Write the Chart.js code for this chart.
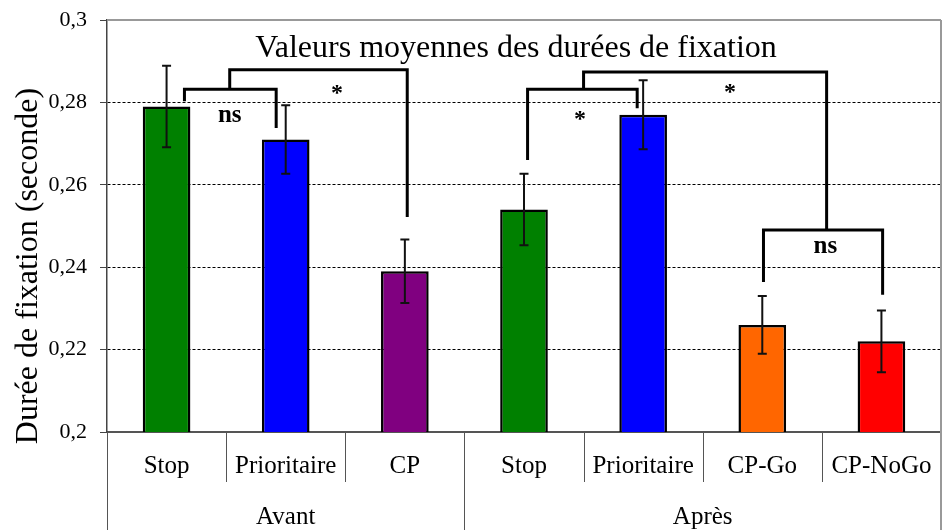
<!DOCTYPE html>
<html lang="fr">
<head>
<meta charset="UTF-8">
<title>Valeurs moyennes des durées de fixation</title>
<script src="https://cdn.jsdelivr.net/npm/chart.js"></script>
<style>
  html, body { margin: 0; padding: 0; background: #fff; }
  #wrap { width: 945px; height: 530px; }
</style>
</head>
<body>
<div id="wrap"><canvas id="fixChart"></canvas></div>
<script>
var categories = ['Stop', 'Prioritaire', 'CP', 'Stop', 'Prioritaire', 'CP-Go', 'CP-NoGo'];
var groups = ['Avant', 'Après'];
var groupSizes = [3, 4];
var meanValues = [0.279, 0.271, 0.239, 0.254, 0.277, 0.226, 0.222];
var errorValues = [0.0099, 0.0083, 0.0077, 0.0087, 0.0084, 0.0070, 0.0075];
var barColors = ['#008000', '#0000ff', '#800080', '#008000', '#0000ff', '#ff6600', '#ff0000'];
var yTicks = [0.2, 0.22, 0.24, 0.26, 0.28, 0.3];
var yTickLabels = ['0,2', '0,22', '0,24', '0,26', '0,28', '0,3'];

// significance brackets, in category index / seconds:
// [left x, left leg end, right x, right leg end, top]
var brackets = [
    [0.15, 0.2803, 0.92, 0.2738, 0.2832],
    [0.53, 0.2832, 2.02, 0.2522, 0.2879],
    [3.03, 0.2660, 3.95, 0.2786, 0.2832],
    [3.50, 0.2832, 5.54, 0.2490, 0.2874],
    [5.01, 0.2364, 6.01, 0.2333, 0.2490]
];
var bracketLabels = ['ns', '*', '*', '*', 'ns'];
var bracketLabelPos = [[0.53, 0.2752], [1.43, 0.2806], [3.47, 0.2743], [4.73, 0.2808], [5.53, 0.2434]];

var chartTitle = 'Valeurs moyennes des durées de fixation';
var yTitle = 'Durée de fixation (seconde)';
var serif = '"Liberation Serif", "DejaVu Serif", serif';

var extras = {
    id: 'extras',
    beforeDatasetsDraw: function(chart) {
        var ctx = chart.ctx, a = chart.chartArea;
        ctx.save();
        ctx.strokeStyle = '#999';
        ctx.lineWidth = 2;
        ctx.beginPath();
        ctx.moveTo(a.left, a.top);
        ctx.lineTo(a.right, a.top);
        ctx.stroke();
        ctx.restore();
    },
    afterDatasetsDraw: function(chart) {
        var ctx = chart.ctx, a = chart.chartArea;
        var xs = chart.scales.x, ys = chart.scales.y;
        var meta = chart.getDatasetMeta(0);
        ctx.save();

        // error bars
        ctx.strokeStyle = '#111';
        ctx.lineWidth = 2;
        meta.data.forEach(function(bar, i) {
            var yHi = ys.getPixelForValue(meanValues[i] + errorValues[i]);
            var yLo = ys.getPixelForValue(meanValues[i] - errorValues[i]);
            ctx.beginPath();
            ctx.moveTo(bar.x, yHi); ctx.lineTo(bar.x, yLo);
            ctx.moveTo(bar.x - 4.5, yHi); ctx.lineTo(bar.x + 4.5, yHi);
            ctx.moveTo(bar.x - 4.5, yLo); ctx.lineTo(bar.x + 4.5, yLo);
            ctx.stroke();
        });

        // brackets
        ctx.strokeStyle = '#000';
        ctx.lineWidth = 3;
        ctx.lineJoin = 'miter';
        brackets.forEach(function(b) {
            ctx.beginPath();
            ctx.moveTo(xs.getPixelForValue(b[0]), ys.getPixelForValue(b[1]));
            ctx.lineTo(xs.getPixelForValue(b[0]), ys.getPixelForValue(b[4]));
            ctx.lineTo(xs.getPixelForValue(b[2]), ys.getPixelForValue(b[4]));
            ctx.lineTo(xs.getPixelForValue(b[2]), ys.getPixelForValue(b[3]));
            ctx.stroke();
        });
        ctx.fillStyle = '#000';
        ctx.textAlign = 'center';
        ctx.textBaseline = 'alphabetic';
        bracketLabels.forEach(function(t, i) {
            ctx.font = 'bold ' + (t === '*' ? 24 : 25) + 'px ' + serif;
            ctx.fillText(t, xs.getPixelForValue(bracketLabelPos[i][0]), ys.getPixelForValue(bracketLabelPos[i][1]));
        });

        // title inside the plot
        ctx.font = '32px ' + serif;
        ctx.fillText(chartTitle, (a.left + a.right) / 2 - 8, a.top + 37);
        ctx.restore();
    },
    afterDraw: function(chart) {
        var ctx = chart.ctx, a = chart.chartArea, xs = chart.scales.x;
        var H = chart.height;
        ctx.save();

        // category separators
        ctx.strokeStyle = '#555';
        ctx.lineWidth = 1;
        var bounds = [];
        for (var i = 0; i <= categories.length; i++) {
            if (i === 0) bounds.push(a.left);
            else if (i === categories.length) bounds.push(a.right);
            else bounds.push((xs.getPixelForValue(i - 1) + xs.getPixelForValue(i)) / 2);
        }
        var groupEdges = [0];
        groupSizes.forEach(function(n) { groupEdges.push(groupEdges[groupEdges.length - 1] + n); });
        bounds.forEach(function(x, i) {
            var full = groupEdges.indexOf(i) >= 0;
            ctx.beginPath();
            ctx.moveTo(Math.round(x) + 0.5, a.bottom);
            ctx.lineTo(Math.round(x) + 0.5, full ? H : a.bottom + 50);
            ctx.stroke();
        });
        ctx.strokeStyle = '#999';
        ctx.lineWidth = 2;
        ctx.beginPath();
        ctx.moveTo(a.right, a.top);
        ctx.lineTo(a.right, H);
        ctx.stroke();

        // group labels
        ctx.fillStyle = '#000';
        ctx.font = '25px ' + serif;
        ctx.textAlign = 'center';
        ctx.textBaseline = 'middle';
        groups.forEach(function(g, k) {
            var x0 = bounds[groupEdges[k]], x1 = bounds[groupEdges[k + 1]];
            ctx.fillText(g, (x0 + x1) / 2, a.bottom + 85);
        });

        // y axis title
        ctx.translate(37, 266);
        ctx.rotate(-Math.PI / 2);
        ctx.textBaseline = 'alphabetic';
        ctx.font = '32px ' + serif;
        ctx.fillText(yTitle, 0, 0);
        ctx.restore();
    }
};

var ctx = document.getElementById('fixChart').getContext('2d');
var fixChart = new Chart(ctx, {
    type: 'bar',
    data: {
        labels: categories,
        datasets: [{
            data: meanValues,
            backgroundColor: barColors,
            borderColor: '#000',
            borderWidth: 2.5,
            barPercentage: 0.4,
            categoryPercentage: 1
        }]
    },
    options: {
        responsive: true,
        maintainAspectRatio: false,
        animation: false,
        layout: { padding: { left: 0, top: 20, right: 4, bottom: 0 } },
        plugins: {
            legend: { display: false },
            title: { display: false },
            tooltip: { enabled: false }
        },
        scales: {
            x: {
                grid: { display: false, drawTicks: false },
                border: { display: true, color: '#555', width: 2 },
                ticks: {
                    color: '#000',
                    font: { family: serif, size: 25 },
                    padding: 19,
                    autoSkip: false,
                    maxRotation: 0
                },
                afterFit: function(scale) {
                    scale.height = 98;
                    scale.paddingLeft = 0;
                    scale.paddingRight = 0;
                }
            },
            y: {
                min: 0.2,
                max: 0.3,
                afterBuildTicks: function(scale) {
                    scale.ticks = yTicks.map(function(v) { return { value: v }; });
                },
                grid: {
                    color: function(c) {
                        var v = c.tick ? c.tick.value : 0;
                        return (Math.abs(v - 0.2) < 1e-6 || Math.abs(v - 0.3) < 1e-6) ? 'rgba(0,0,0,0)' : '#000';
                    },
                    lineWidth: 1,
                    tickColor: '#444',
                    tickLength: 7
                },
                border: { display: true, color: '#444', width: 1.5, dash: [3, 2] },
                ticks: {
                    color: '#000',
                    font: { family: serif, size: 22 },
                    padding: 13,
                    callback: function(v, i) { return yTickLabels[i]; }
                },
                afterFit: function(scale) {
                    scale.width = 107;
                    scale.paddingTop = 0;
                    scale.paddingBottom = 0;
                }
            }
        }
    },
    plugins: [extras]
});
</script>
</body>
</html>
